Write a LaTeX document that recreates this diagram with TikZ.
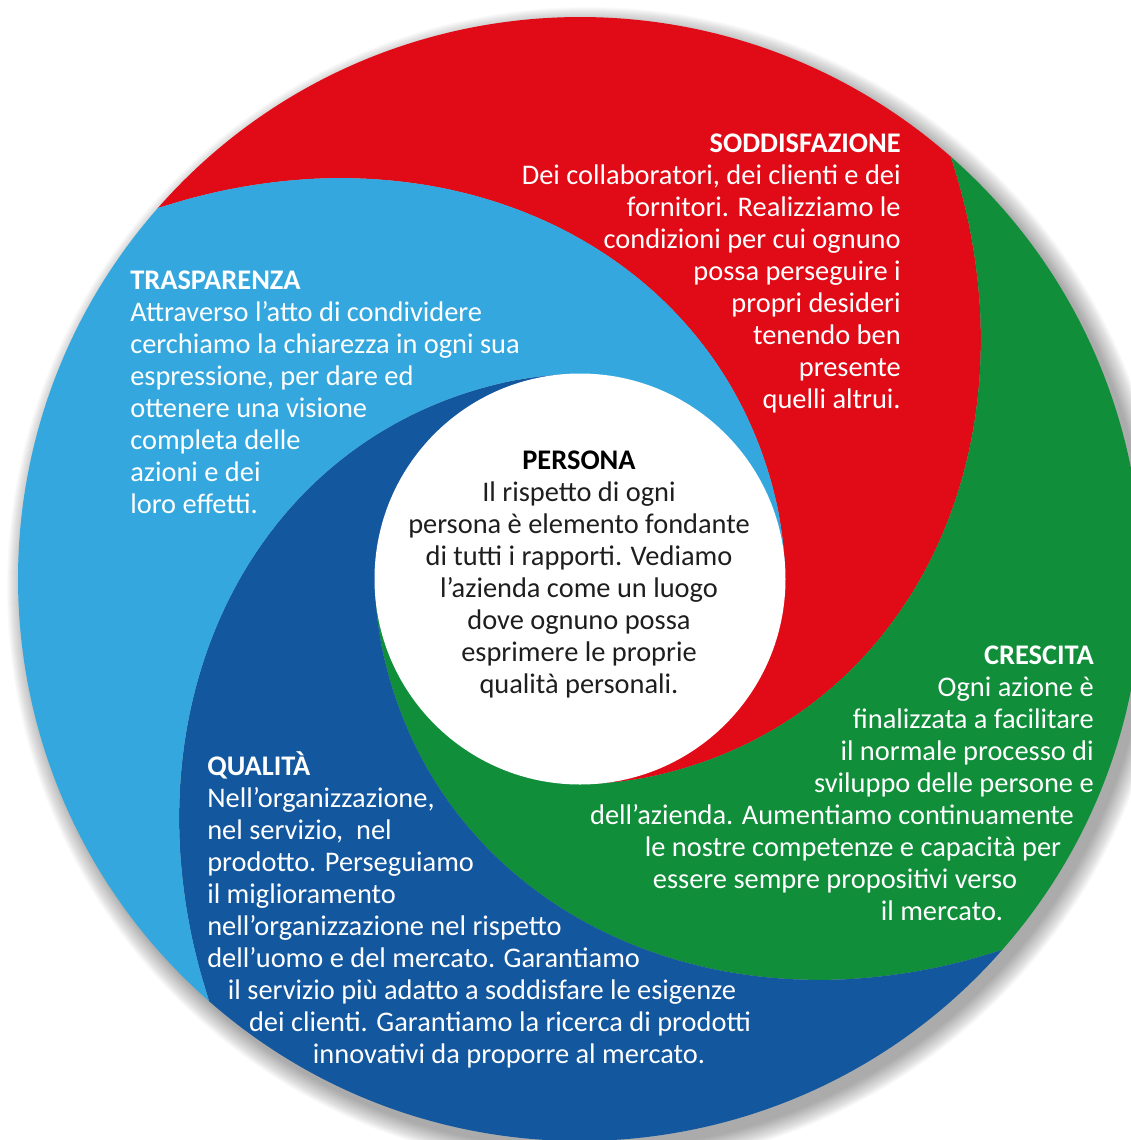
\documentclass[tikz,border=0pt]{standalone}
\usepackage{fontspec}
\setmainfont{Carlito}

\definecolor{rosso}{RGB}{225,11,23}
\definecolor{verde}{RGB}{16,142,58}
\definecolor{blu}{RGB}{19,87,158}
\definecolor{azzurro}{RGB}{52,168,222}
\definecolor{inchiostro}{RGB}{30,30,30}

\tikzset{testo/.style={inner sep=0pt, text=white, font=\fontsize{20.2}{22.7}\selectfont}}

% one swirl segment, between the edge turned by #1 and the edge turned by #1+90
\newcommand{\spicchio}[2]{%
  \begin{scope}[rotate=#1]
    \fill[#2] (138.7:562) arc[start angle=138.7, end angle=48.7, radius=562]
      -- plot[smooth, domain=0:138, samples=47, variable=\t] ({48.7-\t}:{spir(\t)})
      arc[start angle=-89.3, end angle=0.7, radius=205]
      -- plot[smooth, domain=138:0, samples=47, variable=\t] ({138.7-\t}:{spir(\t)})
      -- cycle;
  \end{scope}}

\begin{document}
\begin{tikzpicture}[x=0.025cm, y=0.025cm, declare function={spir(\t)=205+357*(1-\t/140)^2.27;}]
  \useasboundingbox (0,0) rectangle (1131,-1140);
  \clip (0,0) rectangle (1131,-1140);

  %Disk
  \begin{scope}[shift={(580,-579)}]
    \foreach \k in {1,...,20}
      \fill[black, opacity=0.018] (8,-9) circle ({561+21-\k});
    \spicchio{0}{rosso}
    \spicchio{-90}{verde}
    \spicchio{-180}{blu}
    \spicchio{90}{azzurro}
    \fill[white] (0,0) circle (205.5);
  \end{scope}

  %Text (base = last line)
  \node[testo, anchor=base east, align=right] (soddisfazione) at (901,-408)
    {\textbf{SODDISFAZIONE}\\Dei collaboratori, dei clienti e dei\\fornitori. Realizziamo le\\condizioni per cui ognuno\\possa perseguire i\\propri desideri\\tenendo ben\\presente\\quelli altrui.};
  \node[testo, anchor=base west, align=left] (trasparenza) at (130,-513)
    {\textbf{TRASPARENZA}\\Attraverso l’atto di condividere\\cerchiamo la chiarezza in ogni sua\\espressione, per dare ed\\ottenere una visione\\completa delle\\azioni e dei\\loro effetti.};
  \node[testo, text=inchiostro, anchor=base, align=center] (persona) at (579,-693)
    {\textbf{\color{black}PERSONA}\\Il rispetto di ogni\\persona è elemento fondante\\di tutti i rapporti. Vediamo\\l’azienda come un luogo\\dove ognuno possa\\esprimere le proprie\\qualità personali.};

  \node[testo, anchor=base east, align=right] (crescita) at (1094,-792)
    {\textbf{CRESCITA}\\Ogni azione è\\finalizzata a facilitare\\il normale processo di\\sviluppo delle persone e};
  \node[testo, anchor=base] (crescita5) at (832,-824) {dell’azienda. Aumentiamo continuamente};
  \node[testo, anchor=base] (crescita6) at (853,-856) {le nostre competenze e capacità per};
  \node[testo, anchor=base] (crescita7) at (835,-888) {essere sempre propositivi verso};
  \node[testo, anchor=base] (crescita8) at (942,-920) {il mercato.};

  \node[testo, anchor=base west, align=left] (qualita) at (207,-967)
    {\textbf{QUALITÀ}\\Nell’organizzazione,\\nel servizio,\ \ nel\\prodotto. Perseguiamo\\il miglioramento\\nell’organizzazione nel rispetto\\dell’uomo e del mercato. Garantiamo};
  \node[testo, anchor=base] (qualita8) at (482,-999) {il servizio più adatto a soddisfare le esigenze};
  \node[testo, anchor=base] (qualita9) at (500,-1031) {dei clienti. Garantiamo la ricerca di prodotti};
  \node[testo, anchor=base] (qualita10) at (509,-1063) {innovativi da proporre al mercato.};
\end{tikzpicture}
\end{document}
